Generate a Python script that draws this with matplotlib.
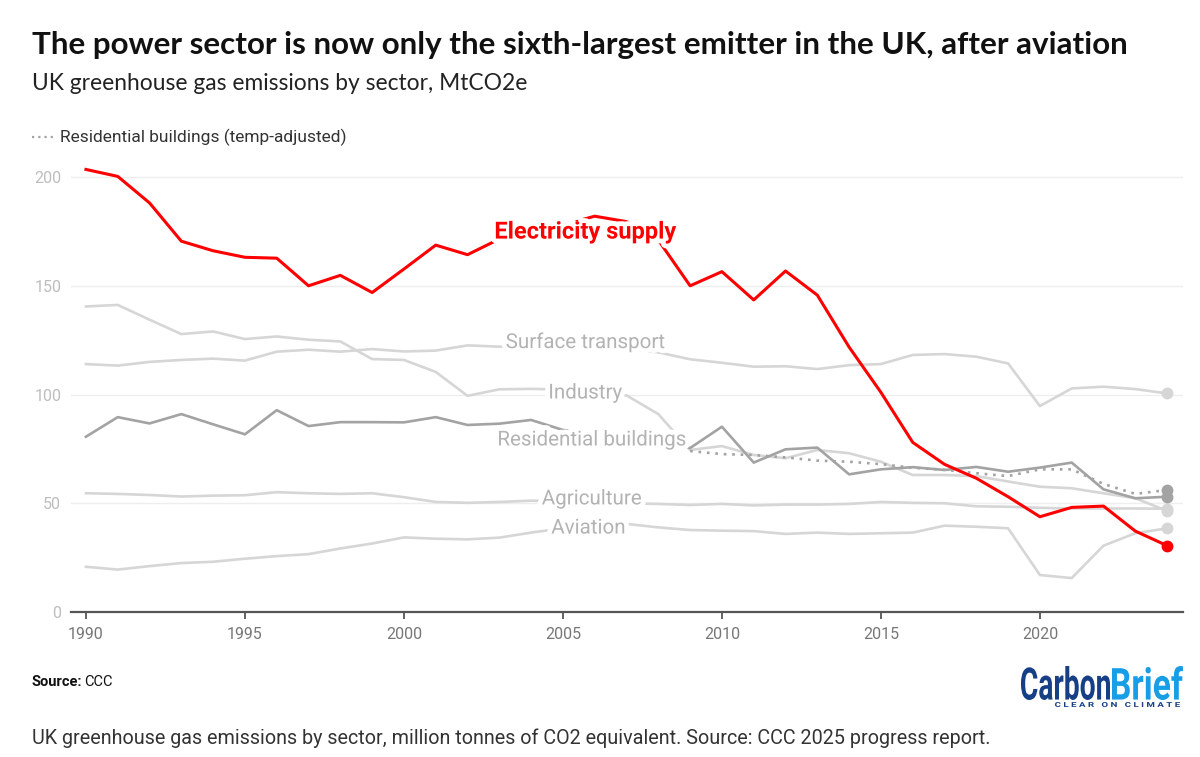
import matplotlib.pyplot as plt
import matplotlib.patheffects as pe
from matplotlib.textpath import TextPath
from matplotlib.patches import PathPatch
from matplotlib.font_manager import FontProperties
from matplotlib.transforms import Affine2D

years = list(range(1990, 2025))

electricity = [203.5, 200.3, 188.1, 170.5, 166.1, 163.1, 162.7, 150.0, 154.8, 146.9,
               157.7, 168.7, 164.3, 171.5, 175.0, 178.0, 182.0, 179.5, 171.0, 150.0,
               156.5, 143.5, 156.8, 145.7, 121.8, 101.0, 78.0, 67.9, 61.5, 53.0,
               43.8, 48.1, 48.7, 37.2, 30.5]
surface_transport = [114.0, 113.3, 115.0, 115.9, 116.5, 115.6, 119.7, 120.6, 119.7, 120.9,
                     119.8, 120.2, 122.6, 122.0, 122.2, 122.0, 121.8, 121.0, 119.4, 116.2,
                     114.6, 112.8, 113.0, 111.7, 113.5, 114.0, 118.2, 118.6, 117.4, 114.3,
                     94.7, 102.8, 103.6, 102.5, 100.5]
industry = [140.5, 141.2, 134.4, 127.8, 129.0, 125.5, 126.7, 125.2, 124.4, 116.3,
            115.9, 110.4, 99.4, 102.4, 102.6, 102.3, 101.0, 99.6, 91.0, 74.5,
            76.3, 72.2, 70.7, 74.5, 73.0, 69.1, 63.0, 63.0, 62.5, 60.0,
            57.6, 56.9, 54.6, 52.3, 46.5]
residential = [80.6, 89.6, 86.7, 91.0, 86.3, 81.7, 92.8, 85.5, 87.3, 87.3,
               87.2, 89.6, 86.0, 86.6, 88.3, 83.7, 82.0, 81.0, 79.5, 75.4,
               85.2, 68.7, 74.8, 75.6, 63.3, 65.6, 66.6, 65.3, 66.7, 64.5,
               66.4, 68.7, 56.4, 52.3, 53.0]
agriculture = [54.6, 54.3, 53.8, 53.1, 53.5, 53.7, 55.1, 54.6, 54.3, 54.6,
               52.8, 50.6, 50.2, 50.6, 51.2, 51.0, 50.5, 50.0, 49.7, 49.2,
               49.7, 49.0, 49.4, 49.4, 49.7, 50.6, 50.2, 50.0, 48.6, 48.4,
               47.9, 47.6, 47.6, 47.6, 47.5]
aviation = [20.8, 19.5, 21.1, 22.5, 23.1, 24.5, 25.7, 26.6, 29.2, 31.5,
            34.3, 33.7, 33.4, 34.2, 36.5, 38.5, 40.0, 40.5, 38.9, 37.7,
            37.4, 37.2, 35.9, 36.5, 35.9, 36.2, 36.5, 39.7, 39.2, 38.5,
            17.0, 15.6, 30.5, 36.2, 38.5]
res_years_adj = list(range(2009, 2025))
residential_adj = [74.0, 72.6, 72.2, 71.1, 69.6, 69.1, 68.0, 66.3, 65.4, 63.8,
                   62.5, 65.6, 65.6, 58.9, 54.3, 56.1]

RED = '#ff0000'
LIGHT = '#d6d6d6'
DARK = '#a3a3a3'
LABEL_GREY = '#b3b3b3'

plt.rcParams['font.family'] = ['Roboto', 'DejaVu Sans']

fig = plt.figure(figsize=(12, 7.57), dpi=100)
ax = fig.add_axes([71 / 1200, 1 - 612 / 757, (1183 - 71) / 1200, (612 - 155.3) / 757])

ax.set_xlim(1989.53, 2024.5)
ax.set_ylim(0, 210)

halo = [pe.withStroke(linewidth=7, foreground='white')]

for series in [surface_transport, industry, agriculture, aviation]:
    ax.plot(years, series, color=LIGHT, lw=1.9, zorder=2)
    ax.plot(years[-1], series[-1], 'o', color=LIGHT, ms=7.5, zorder=3)

ax.plot(years, residential, color=DARK, lw=1.9, zorder=3)
ax.plot(years[-1], residential[-1], 'o', color=DARK, ms=7.5, zorder=4)
ax.plot(res_years_adj, residential_adj, color=DARK, lw=1.9, ls=(0, (1, 2.2)), zorder=3)
ax.plot(res_years_adj[-1], residential_adj[-1], 'o', color=DARK, ms=7.5, zorder=4)

ax.plot(years, electricity, color=RED, lw=2.2, zorder=5)
ax.plot(years[-1], electricity[-1], 'o', color=RED, ms=7.5, zorder=6)

# direct labels
labels = [
    ('Surface transport', 2005.7, 124.0),
    ('Industry', 2005.7, 100.7),
    ('Residential buildings', 2005.9, 79.1),
    ('Agriculture', 2005.9, 52.0),
    ('Aviation', 2005.8, 38.6),
]
for txt, x, y in labels:
    ax.text(x, y, txt, color=LABEL_GREY, fontsize=14.8, ha='center', va='center',
            path_effects=halo, zorder=7)
ax.text(2005.7, 174.7, 'Electricity supply', color=RED, fontsize=17, fontweight='bold',
        ha='center', va='center', path_effects=halo, zorder=8)

# axes styling
for side in ['top', 'right', 'left']:
    ax.spines[side].set_visible(False)
ax.spines['bottom'].set_color('#555555')
ax.spines['bottom'].set_linewidth(1.6)
ax.set_yticks([0, 50, 100, 150, 200])
ax.set_xticks([1990, 1995, 2000, 2005, 2010, 2015, 2020])
ax.tick_params(axis='y', length=0, pad=7, labelsize=11.5, labelcolor='#bdbdbd')
ax.tick_params(axis='x', length=5, width=1.3, color='#555555', pad=6,
               labelsize=11.5, labelcolor='#777777')
ax.grid(axis='y', color='#eeeeee', lw=1)
ax.set_axisbelow(True)

# titles
fig.text(32 / 1200, 1 - 45 / 757, 'The power sector is now only the sixth-largest emitter in the UK, after aviation',
         fontsize=22.6, fontweight='bold', family=['Lato', 'DejaVu Sans'], va='center', color='#111111')
fig.text(32 / 1200, 1 - 83 / 757, 'UK greenhouse gas emissions by sector, MtCO2e',
         fontsize=16.4, family=['Lato', 'DejaVu Sans'], va='center', color='#222222')

# legend
fig.add_artist(plt.Line2D([32 / 1200, 55 / 1200], [1 - 137 / 757] * 2, color=DARK, lw=1.6,
                          ls=(0, (1, 1.8))))
fig.text(60 / 1200, 1 - 137 / 757, 'Residential buildings (temp-adjusted)', fontsize=12.5,
         va='center', color='#333333')

# footer
fig.text(32 / 1200, 1 - 682 / 757, 'Source:', fontsize=10.5, fontweight='bold', va='center', color='#111111')
fig.text(84 / 1200, 1 - 682 / 757, 'CCC', fontsize=10.5, va='center', color='#111111')
fig.text(32 / 1200, 1 - 738 / 757,
         'UK greenhouse gas emissions by sector, million tonnes of CO2 equivalent. Source: CCC 2025 progress report.',
         fontsize=14.2, va='center', color='#333333')


# logo drawn as stretched text paths in pixel coordinates
def logo_text(s, x, y, height, width, color, weight='bold'):
    fp = FontProperties(family='Roboto', weight=weight)
    tp = TextPath((0, 0), s, size=100, prop=fp)
    ext = tp.get_extents()
    sx = width / ext.width
    sy = height / ext.height
    tr = Affine2D().translate(-ext.x0, -ext.y0).scale(sx, sy).translate(x, 757 - y)
    fig.patches.append(PathPatch(tr.transform_path(tp), color=color, lw=0,
                                 transform=None, figure=fig))


logo_text('Carbon', 1021, 700, 34, 89, '#163f86')
logo_text('Brief', 1112, 700, 34, 71, '#189ee6')
logo_text('C L E A R   O N   C L I M A T E', 1055, 707, 5, 125, '#163f86')

fig.savefig('out.png', dpi=100, facecolor='white')
